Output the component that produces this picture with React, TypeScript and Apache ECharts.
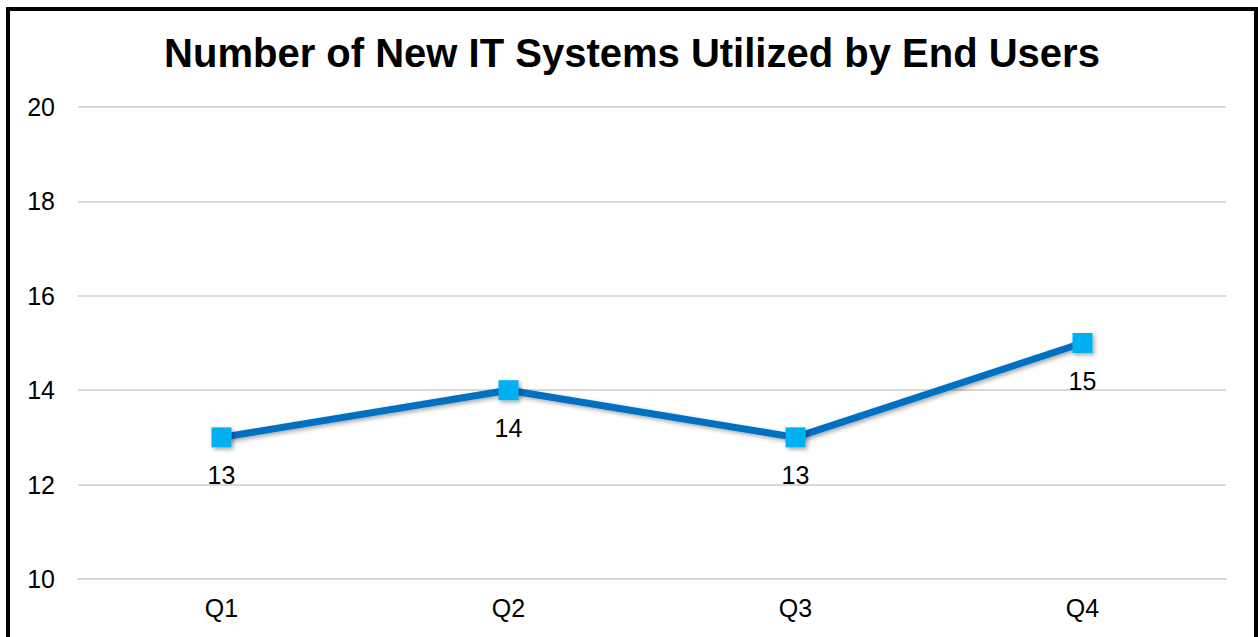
import React, { useEffect, useRef } from "react";
import * as echarts from "echarts";

const categories = ["Q1", "Q2", "Q3", "Q4"];
const values = [13, 14, 13, 15];
const yMin = 10;
const yMax = 20;
const yInterval = 2;
const titleText = "Number of New IT Systems Utilized by End Users";

const FONT = "'Liberation Sans', Arial, sans-serif";

export default function App() {
  const ref = useRef<HTMLDivElement>(null);
  useEffect(() => {
    if (!ref.current) return;
    const chart = echarts.init(ref.current, undefined, { renderer: "svg" });
    chart.setOption({
      animation: false,
      backgroundColor: "#ffffff",
      title: {
        text: titleText,
        left: "center",
        top: 17,
        textStyle: {
          fontFamily: FONT,
          fontWeight: "bold",
          fontSize: 40,
          color: "#000000",
        },
      },
      grid: { left: 68, right: 28, top: 96, bottom: 66 },
      xAxis: {
        type: "category",
        data: categories,
        boundaryGap: true,
        axisLine: { show: true, lineStyle: { color: "#d9d9d9", width: 2 } },
        axisTick: { show: false },
        axisLabel: {
          color: "#000000",
          fontSize: 25,
          fontFamily: FONT,
          margin: 16,
        },
      },
      yAxis: {
        type: "value",
        min: yMin,
        max: yMax,
        interval: yInterval,
        axisLine: { show: false },
        axisTick: { show: false },
        splitLine: { lineStyle: { color: "#d9d9d9", width: 2 } },
        axisLabel: {
          color: "#000000",
          fontSize: 25,
          fontFamily: FONT,
          margin: 23,
        },
      },
      series: [
        {
          type: "line",
          data: values,
          symbol: "rect",
          symbolSize: 20,
          lineStyle: {
            color: "#0070C0",
            width: 7,
            shadowColor: "rgba(0,0,0,0.35)",
            shadowBlur: 4,
            shadowOffsetX: 2,
            shadowOffsetY: 2,
          },
          itemStyle: {
            color: "#00B0F0",
            shadowColor: "rgba(0,0,0,0.35)",
            shadowBlur: 4,
            shadowOffsetX: 2,
            shadowOffsetY: 2,
          },
          label: {
            show: true,
            position: "bottom",
            distance: 15,
            color: "#000000",
            fontSize: 25,
            fontFamily: FONT,
          },
        },
      ],
    });
    return () => chart.dispose();
  }, []);
  return (
    <div
      style={{
        position: "absolute",
        left: 6,
        top: 7,
        width: 1252,
        height: 650,
        border: "4px solid #000",
        boxSizing: "border-box",
        background: "#fff",
      }}
    >
      <div ref={ref} style={{ width: 1244, height: 634 }} />
    </div>
  );
}
